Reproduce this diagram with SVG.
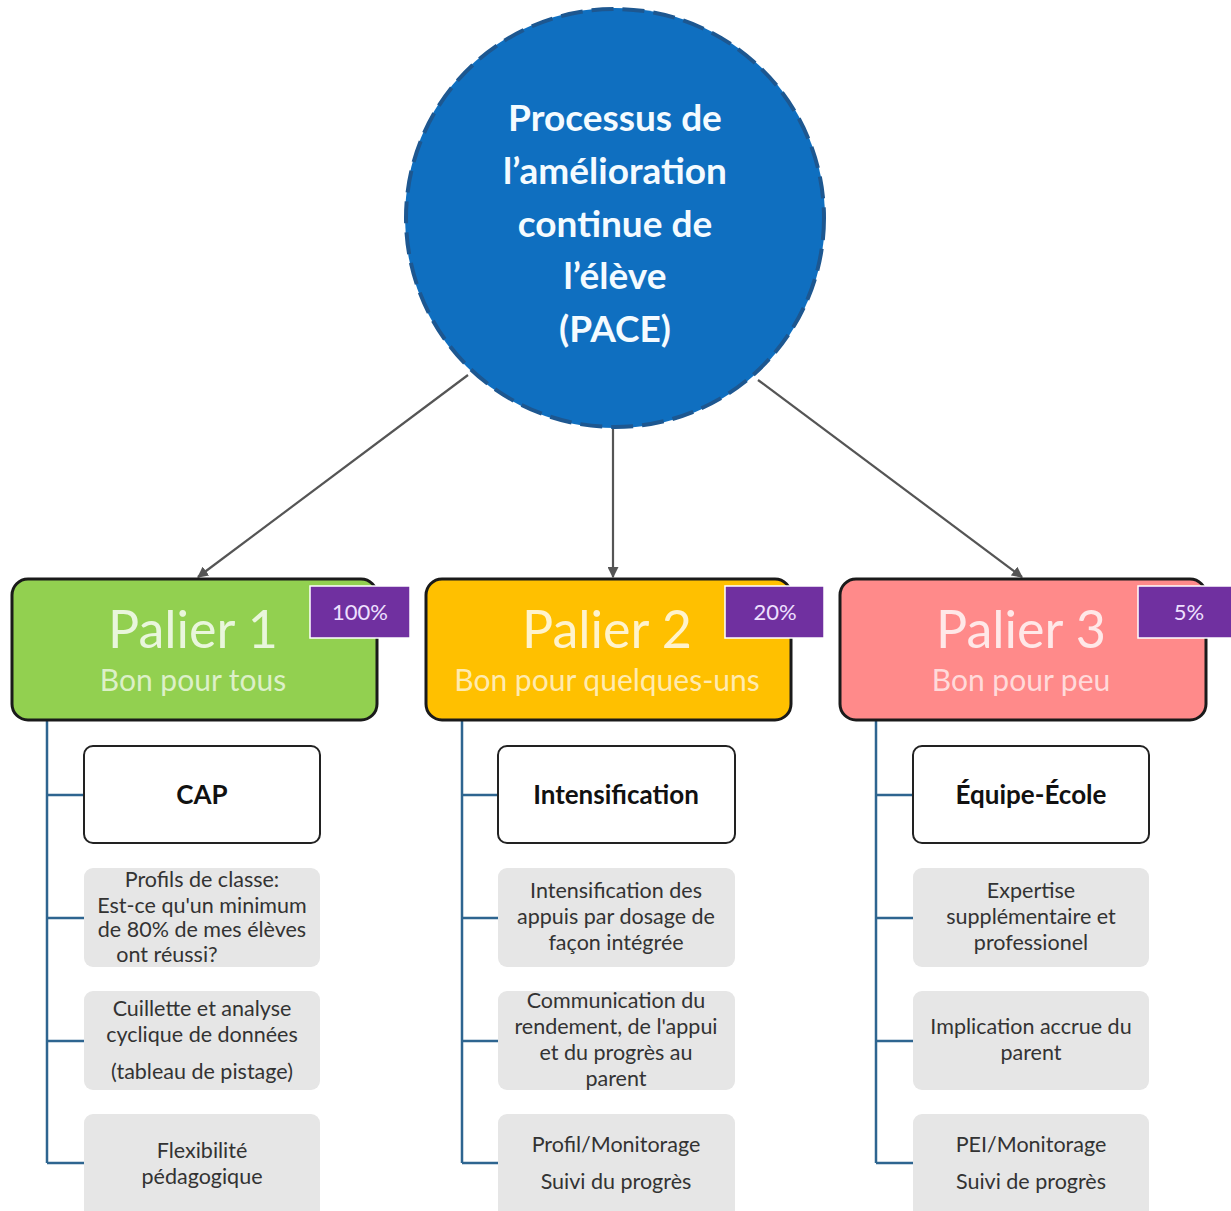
<svg xmlns="http://www.w3.org/2000/svg" width="1231" height="1211" viewBox="0 0 1231 1211">
<defs>
<marker id="arr" viewBox="0 0 10 10" refX="9" refY="5" markerWidth="5" markerHeight="5" orient="auto-start-reverse"><path d="M0,0 L10,5 L0,10 z" fill="#555"/></marker>
<style>
.title{font-family:Lato,"Open Sans",sans-serif;font-weight:bold;font-size:37px;fill:#f4fbff;text-anchor:middle}
.pal{font-family:Lato,"Open Sans",sans-serif;font-size:52px;text-anchor:middle;fill:#fff;fill-opacity:0.8}
.sub{font-family:Lato,"Open Sans",sans-serif;font-size:30px;text-anchor:middle;fill:#fff;fill-opacity:0.7}
.pct{font-family:Lato,"Open Sans",sans-serif;font-size:22px;text-anchor:middle;fill:#eee0ff}
.badge{fill:#7030A0;stroke:#fff;stroke-width:1.5}
.tier{stroke:#1a1a1a;stroke-width:3}
.head{fill:#fff;stroke:#222;stroke-width:2}
.gray{fill:#e6e6e6}
.ht{font-family:Lato,"Open Sans",sans-serif;font-weight:bold;font-size:26px;text-anchor:middle;fill:#111}
.gt{font-family:Lato,"Open Sans",sans-serif;font-size:21.5px;text-anchor:middle;fill:#333}
.tree{stroke:#2e6590;stroke-width:2.5;fill:none}
.conn{stroke:#555;stroke-width:2.2;fill:none}
</style>
</defs>
<rect width="1231" height="1211" fill="#fff"/>

<g id="connectors">
<line class="conn" x1="468" y1="375" x2="198" y2="577" marker-end="url(#arr)"/>
<line class="conn" x1="613" y1="428" x2="613" y2="577" marker-end="url(#arr)"/>
<line class="conn" x1="758" y1="380" x2="1022" y2="577" marker-end="url(#arr)"/>
<path class="tree" d="M47,720 V1163 M47,795 H84 M47,918 H84 M47,1041 H84 M47,1163 H84"/>
<path class="tree" d="M462,720 V1163 M462,795 H498 M462,918 H498 M462,1041 H498 M462,1163 H498"/>
<path class="tree" d="M876,720 V1163 M876,795 H913 M876,918 H913 M876,1041 H913 M876,1163 H913"/>
</g>

<g id="pace">
<circle cx="615" cy="218" r="210" fill="#0f6fc0"/>
<circle cx="615" cy="218" r="209" fill="none" stroke="#1d5790" stroke-width="4" stroke-dasharray="22 9"/>
<text class="title" x="615" y="131">Processus de</text>
<text class="title" x="615" y="184">l’amélioration</text>
<text class="title" x="615" y="237">continue de</text>
<text class="title" x="615" y="289">l’élève</text>
<text class="title" x="615" y="342">(PACE)</text>
</g>

<g id="palier1">
<rect class="tier" x="12" y="579" width="365" height="141" rx="16" fill="#92D050"/>
<text class="pal" x="193" y="648">Palier 1</text>
<text class="sub" x="193" y="691">Bon pour tous</text>
<rect class="badge" x="310" y="586" width="100" height="52"/>
<text class="pct" x="360" y="620">100%</text>
</g>
<g id="palier2">
<rect class="tier" x="426" y="579" width="365" height="141" rx="16" fill="#FFC000"/>
<text class="pal" x="607" y="648">Palier 2</text>
<text class="sub" x="607" y="691">Bon pour quelques-uns</text>
<rect class="badge" x="725" y="586" width="99" height="52"/>
<text class="pct" x="775" y="620">20%</text>
</g>
<g id="palier3">
<rect class="tier" x="840" y="579" width="366" height="141" rx="16" fill="#FF8A8A"/>
<text class="pal" x="1021" y="648">Palier 3</text>
<text class="sub" x="1021" y="691">Bon pour peu</text>
<rect class="badge" x="1138" y="586" width="95" height="52"/>
<text class="pct" x="1189" y="620">5%</text>
</g>

<g id="cap">
<rect class="head" x="84" y="746" width="236" height="97" rx="9"/>
<text class="ht" x="202" y="804">CAP</text>
</g>
<g id="profils">
<rect class="gray" x="84" y="868" width="236" height="99" rx="9"/>
<text class="gt" x="202" y="887">Profils de classe:</text>
<text class="gt" x="202" y="913">Est-ce qu'un minimum</text>
<text class="gt" x="202" y="937">de 80% de mes élèves</text>
<text class="gt" x="167" y="962">ont réussi?</text>
</g>
<g id="cuillette">
<rect class="gray" x="84" y="991" width="236" height="99" rx="9"/>
<text class="gt" x="202" y="1016">Cuillette et analyse</text>
<text class="gt" x="202" y="1042">cyclique de données</text>
<text class="gt" x="202" y="1079">(tableau de pistage)</text>
</g>
<g id="flexibilite">
<rect class="gray" x="84" y="1114" width="236" height="105" rx="9"/>
<text class="gt" x="202" y="1158">Flexibilité</text>
<text class="gt" x="202" y="1184">pédagogique</text>
</g>

<g id="intensification">
<rect class="head" x="498" y="746" width="237" height="97" rx="9"/>
<text class="ht" x="616" y="804">Intensification</text>
</g>
<g id="intens-appuis">
<rect class="gray" x="498" y="868" width="237" height="99" rx="9"/>
<text class="gt" x="616" y="898">Intensification des</text>
<text class="gt" x="616" y="924">appuis par dosage de</text>
<text class="gt" x="616" y="950">façon intégrée</text>
</g>
<g id="communication">
<rect class="gray" x="498" y="991" width="237" height="99" rx="9"/>
<text class="gt" x="616" y="1008">Communication du</text>
<text class="gt" x="616" y="1034">rendement, de l'appui</text>
<text class="gt" x="616" y="1060">et du progrès au</text>
<text class="gt" x="616" y="1086">parent</text>
</g>
<g id="profil-monitorage">
<rect class="gray" x="498" y="1114" width="237" height="105" rx="9"/>
<text class="gt" x="616" y="1152">Profil/Monitorage</text>
<text class="gt" x="616" y="1189">Suivi du progrès</text>
</g>

<g id="equipe-ecole">
<rect class="head" x="913" y="746" width="236" height="97" rx="9"/>
<text class="ht" x="1031" y="804">Équipe-École</text>
</g>
<g id="expertise">
<rect class="gray" x="913" y="868" width="236" height="99" rx="9"/>
<text class="gt" x="1031" y="898">Expertise</text>
<text class="gt" x="1031" y="924">supplémentaire et</text>
<text class="gt" x="1031" y="950">professionel</text>
</g>
<g id="implication">
<rect class="gray" x="913" y="991" width="236" height="99" rx="9"/>
<text class="gt" x="1031" y="1034">Implication accrue du</text>
<text class="gt" x="1031" y="1060">parent</text>
</g>
<g id="pei-monitorage">
<rect class="gray" x="913" y="1114" width="236" height="105" rx="9"/>
<text class="gt" x="1031" y="1152">PEI/Monitorage</text>
<text class="gt" x="1031" y="1189">Suivi de progrès</text>
</g>
</svg>
